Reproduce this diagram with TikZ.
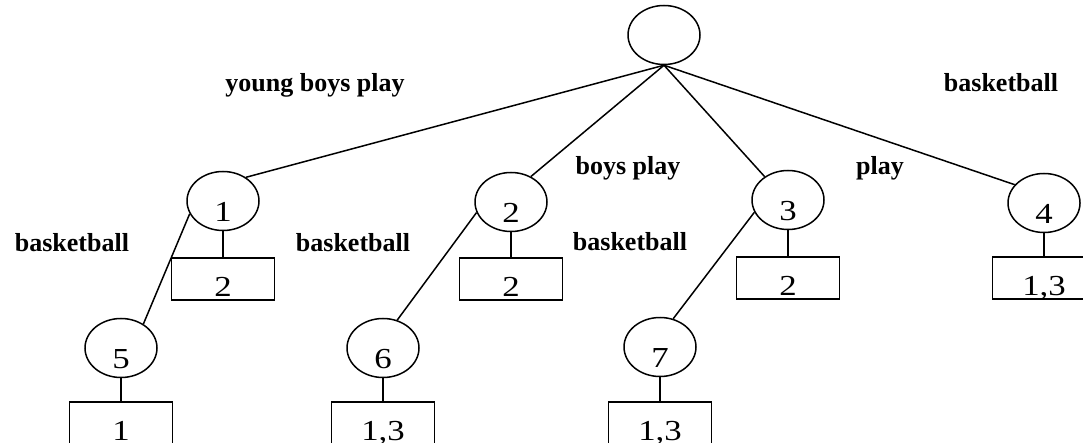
\documentclass[tikz,border=0pt]{standalone}
\usepackage{fontspec}
\setmainfont{Liberation Serif}
\usetikzlibrary{shapes.geometric}
% digits in the ovals and boxes are set a little wider than normal
\newcommand\dg[1]{\scalebox{1.2}[1]{#1}}
\begin{document}
\begin{tikzpicture}[x=1pt, y=-1pt, line width=1.5pt,
  oval/.style={draw, ellipse, inner sep=0pt, minimum width=72pt, minimum height=59pt,
    text height=41pt, text depth=0pt, font=\fontsize{29}{30}\selectfont},
  leaf/.style={draw, rectangle, inner sep=0pt, minimum width=103pt, minimum height=42pt,
    text height=36pt, text depth=0pt, font=\fontsize{29}{30}\selectfont},
  lowleaf/.style={leaf, text height=34pt},
  lab/.style={anchor=base, inner sep=0pt, font=\fontsize{26}{30}\selectfont\bfseries}]
\useasboundingbox (0,0) rectangle (1083,443);

% root and first level
\node[oval] (root) at (664,35) {};
\node[oval] (n1) at (223,201) {\dg{1}};
\node[oval] (n2) at (511,202) {\dg{2}};
\node[oval] (n3) at (788,200) {\dg{3}};
\node[oval] (n4) at (1044,203) {\dg{4}};

% second level
\node[oval] (n5) at (121,348) {\dg{5}};
\node[oval] (n6) at (383,348) {\dg{6}};
\node[oval] (n7) at (660,347) {\dg{7}};

% posting lists
\node[leaf] (b1) at (223,279) {\dg{2}};
\node[leaf] (b2) at (511,279) {\dg{2}};
\node[leaf] (b3) at (788,278) {\dg{2}};
\node[leaf] (b4) at (1044,278) {\dg{1,3}};
\node[lowleaf] (b5) at (121,423) {\dg{1}};
\node[lowleaf] (b6) at (383,423) {\dg{1,3}};
\node[lowleaf] (b7) at (660,423) {\dg{1,3}};

% tree edges
\draw (root.south) -- (n1.46);
\draw (root.south) -- (n2.52);
\draw (root.south) -- (n3.135);
\draw (root.south) -- (n4.148);
\draw (n1.201) -- (n5.47);
\draw (n2.197) -- (n6.63);
\draw (n3.200) -- (n7.65);

% links to posting lists
\foreach \a/\b in {n1/b1, n2/b2, n3/b3, n4/b4, n5/b5, n6/b6, n7/b7}
  \draw (\a.south) -- (\b.north);

% edge labels
\node[lab] (l1) at (315,92) {young boys play};
\node[lab] (l2) at (1001,92) {basketball};
\node[lab] (l3) at (628,175) {boys play};
\node[lab] (l4) at (880,175) {play};
\node[lab] (l5) at (72,252) {basketball};
\node[lab] (l6) at (353,252) {basketball};
\node[lab] (l7) at (630,251) {basketball};
\end{tikzpicture}
\end{document}
